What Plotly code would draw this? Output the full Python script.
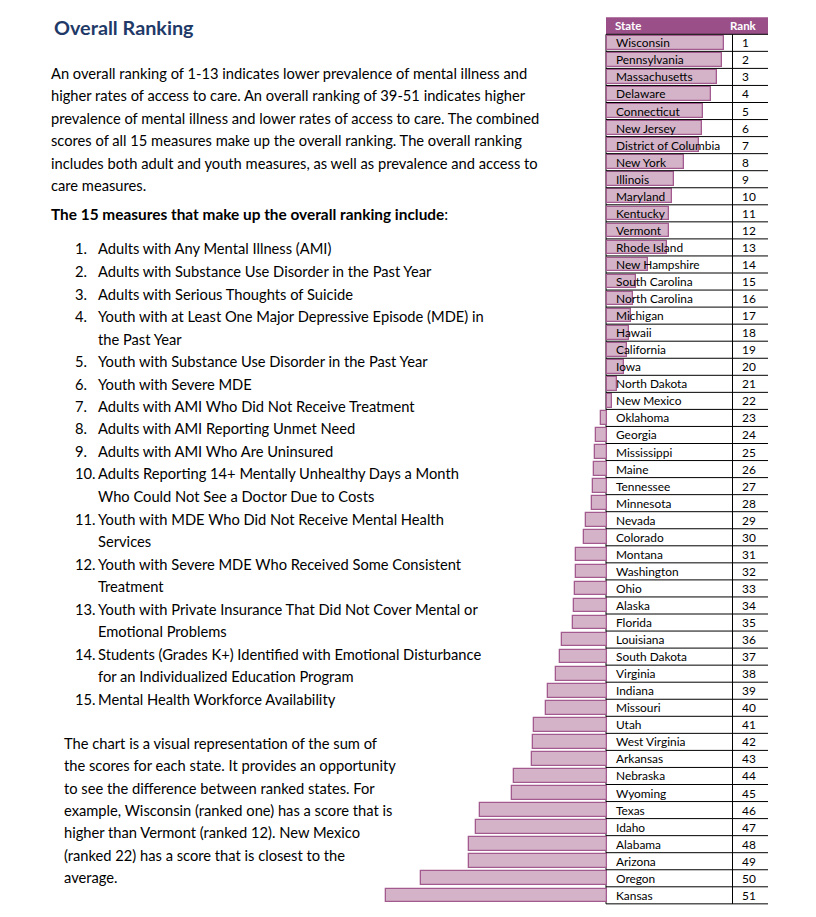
import plotly.graph_objects as go

# ---------------- data ----------------
states = ["Wisconsin", "Pennsylvania", "Massachusetts", "Delaware", "Connecticut", "New Jersey",
          "District of Columbia", "New York", "Illinois", "Maryland", "Kentucky", "Vermont",
          "Rhode Island", "New Hampshire", "South Carolina", "North Carolina", "Michigan", "Hawaii",
          "California", "Iowa", "North Dakota", "New Mexico", "Oklahoma", "Georgia", "Mississippi",
          "Maine", "Tennessee", "Minnesota", "Nevada", "Colorado", "Montana", "Washington", "Ohio",
          "Alaska", "Florida", "Louisiana", "South Dakota", "Virginia", "Indiana", "Missouri", "Utah",
          "West Virginia", "Arkansas", "Nebraska", "Wyoming", "Texas", "Idaho", "Alabama", "Arizona",
          "Oregon", "Kansas"]
ranks = list(range(1, 52))
scores = [117.5, 115.8, 110.8, 104.2, 96.8, 95.2, 92.8, 77.5, 67.5, 65.8, 62.8, 62.8,
          60.2, 41.2, 29.2, 26.8, 24.5, 22.5, 20.2, 17.8, 10.2, 5.8, -5.5, -10.5, -11.5,
          -12.2, -13.2, -14.2, -20.5, -22.5, -30.8, -30.8, -31.5, -32.7, -33.5, -44.8, -46.5,
          -50.8, -58.2, -60.8, -72.2, -73.2, -74.8, -92.5, -94.2, -126.8, -130.5, -137.2, -137.8,
          -185.2, -220.8]

title_text = "Overall Ranking"
intro_lines = [
    "An overall ranking of 1-13 indicates lower prevalence of mental illness and",
    "higher rates of access to care. An overall ranking of 39-51 indicates higher",
    "prevalence of mental illness and lower rates of access to care. The combined",
    "scores of all 15 measures make up the overall ranking. The overall ranking",
    "includes both adult and youth measures, as well as prevalence and access to",
    "care measures.",
]
measures_heading = "<b>The 15 measures that make up the overall ranking include</b>:"
# (number label, text) ; number label empty for continuation lines
measure_lines = [
    ("1.", "Adults with Any Mental Illness (AMI)"),
    ("2.", "Adults with Substance Use Disorder in the Past Year"),
    ("3.", "Adults with Serious Thoughts of Suicide"),
    ("4.", "Youth with at Least One Major Depressive Episode (MDE) in"),
    ("", "the Past Year"),
    ("5.", "Youth with Substance Use Disorder in the Past Year"),
    ("6.", "Youth with Severe MDE"),
    ("7.", "Adults with AMI Who Did Not Receive Treatment"),
    ("8.", "Adults with AMI Reporting Unmet Need"),
    ("9.", "Adults with AMI Who Are Uninsured"),
    ("10.", "Adults Reporting 14+ Mentally Unhealthy Days a Month"),
    ("", "Who Could Not See a Doctor Due to Costs"),
    ("11.", "Youth with MDE Who Did Not Receive Mental Health"),
    ("", "Services"),
    ("12.", "Youth with Severe MDE Who Received Some Consistent"),
    ("", "Treatment"),
    ("13.", "Youth with Private Insurance That Did Not Cover Mental or"),
    ("", "Emotional Problems"),
    ("14.", "Students (Grades K+) Identified with Emotional Disturbance"),
    ("", "for an Individualized Education Program"),
    ("15.", "Mental Health Workforce Availability"),
]
outro_lines = [
    "The chart is a visual representation of the sum of",
    "the scores for each state. It provides an opportunity",
    "to see the difference between ranked states. For",
    "example, Wisconsin (ranked one) has a score that is",
    "higher than Vermont (ranked 12). New Mexico",
    "(ranked 22) has a score that is closest to the",
    "average.",
]
header_labels = ["State", "Rank"]

# ---------------- styling / layout helpers ----------------
FONT = "Lato, 'Open Sans', sans-serif"
BAR_FILL = "#D4B3C9"
BAR_LINE = "#A35B8F"
HEADER_FILL = "#9A4F89"
NAVY = "#1F3A68"

PAGE_OFF = 8          # default body margin of the page
W, H = 816 - PAGE_OFF, 917 - PAGE_OFF

ZERO_PX = 606.5
ROW_TOP = 34.3
ROW_H = 17.05
TABLE_L, TABLE_SEP, TABLE_R = 606.0, 732.5, 768.0


def px(x):
    return (x - PAGE_OFF) / W


def py(y):
    return 1 - (y - PAGE_OFF) / H


fig = go.Figure()
fig.add_trace(go.Bar(
    x=scores, y=ranks, orientation="h", width=0.8,
    marker=dict(color=BAR_FILL, line=dict(color=BAR_LINE, width=1.3)),
    hovertext=states, hoverinfo="text+x",
))

annotations = []
shapes = []

# header
shapes.append(dict(type="rect", xref="paper", yref="paper",
                   x0=px(TABLE_L), x1=px(TABLE_R), y0=py(17.3), y1=py(ROW_TOP),
                   fillcolor=HEADER_FILL, line=dict(width=0), layer="below"))
annotations.append(dict(text="<b>" + header_labels[0] + "</b>", xref="paper", yref="paper",
                        x=px(612.5), y=py(25.8), xanchor="left", yanchor="middle",
                        showarrow=False, font=dict(family=FONT, size=11.5, color="white")))
annotations.append(dict(text="<b>" + header_labels[1] + "</b>", xref="paper", yref="paper",
                        x=px(743.5), y=py(25.8), xanchor="center", yanchor="middle",
                        showarrow=False, font=dict(family=FONT, size=11.5, color="white")))

# table grid
for r in range(0, 52):
    shapes.append(dict(type="line", xref="paper", yref="y",
                       x0=px(TABLE_L), x1=px(TABLE_R), y0=r + 0.5, y1=r + 0.5,
                       line=dict(color="black", width=1), layer="above"))
for xv in (TABLE_L, TABLE_SEP):
    shapes.append(dict(type="line", xref="paper", yref="y",
                       x0=px(xv), x1=px(xv), y0=0.5, y1=51.5,
                       line=dict(color="black", width=1), layer="below"))

# state names and ranks
for s, r in zip(states, ranks):
    annotations.append(dict(text=s, xref="paper", yref="y", x=px(613.5), y=r,
                            xanchor="left", yanchor="middle", showarrow=False,
                            font=dict(family=FONT, size=11.9, color="black")))
    annotations.append(dict(text=str(r), xref="paper", yref="y", x=px(739.5), y=r,
                            xanchor="left", yanchor="middle", showarrow=False,
                            font=dict(family=FONT, size=11.9, color="black")))

# left text
annotations.append(dict(text="<b>" + title_text + "</b>", xref="paper", yref="paper",
                        x=px(51.5), y=py(27), xanchor="left", yanchor="middle",
                        showarrow=False, font=dict(family=FONT, size=19.8, color=NAVY)))
BODY = dict(family=FONT, size=14.7, color="black")
for i, line in enumerate(intro_lines):
    annotations.append(dict(text=line, xref="paper", yref="paper", x=px(48.5),
                            y=py(73 + 22.4 * i), xanchor="left", yanchor="middle",
                            showarrow=False, font=BODY))
annotations.append(dict(text=measures_heading, xref="paper", yref="paper", x=px(48.5),
                        y=py(213.5), xanchor="left", yanchor="middle",
                        showarrow=False, font=dict(family=FONT, size=15.4, color="black")))
for i, (num, line) in enumerate(measure_lines):
    yy = py(248.5 + 22.5 * i)
    if num:
        annotations.append(dict(text=num, xref="paper", yref="paper", x=px(72.5),
                                y=yy, xanchor="left", yanchor="middle",
                                showarrow=False, font=BODY))
    annotations.append(dict(text=line, xref="paper", yref="paper", x=px(95.5),
                            y=yy, xanchor="left", yanchor="middle",
                            showarrow=False, font=BODY))
for i, line in enumerate(outro_lines):
    annotations.append(dict(text=line, xref="paper", yref="paper", x=px(61.5),
                            y=py(743 + 22.35 * i), xanchor="left", yanchor="middle",
                            showarrow=False, font=BODY))

x_left = -(ZERO_PX - PAGE_OFF)
y_top = (PAGE_OFF - ROW_TOP) / ROW_H + 0.5
y_bot = (PAGE_OFF + H - ROW_TOP) / ROW_H + 0.5

fig.update_layout(
    width=W, height=H,
    margin=dict(l=0, r=0, t=0, b=0),
    paper_bgcolor="white", plot_bgcolor="white",
    showlegend=False,
    xaxis=dict(range=[x_left, x_left + W], visible=False, fixedrange=True, domain=[0, 1]),
    yaxis=dict(range=[y_bot, y_top], visible=False, fixedrange=True, domain=[0, 1]),
    annotations=annotations, shapes=shapes,
    bargap=0,
)

fig.write_html("out.html")
